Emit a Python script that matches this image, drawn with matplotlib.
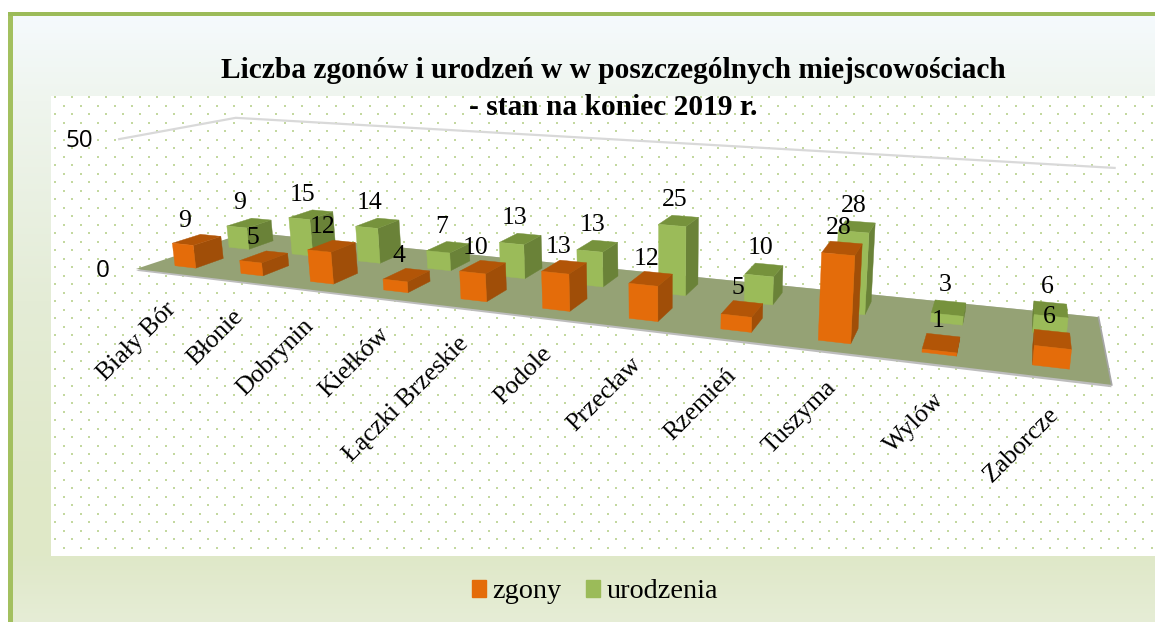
import matplotlib
matplotlib.use("Agg")
import matplotlib.pyplot as plt
import numpy as np
from matplotlib.patches import Patch, Polygon

# Chart data
categories = ['Biały Bór', 'Błonie', 'Dobrynin', 'Kiełków', 'Łączki Brzeskie', 'Podole',
              'Przecław', 'Rzemień', 'Tuszyma', 'Wylów', 'Zaborcze']
zgony = [9, 5, 12, 4, 10, 13, 12, 5, 28, 1, 6]
urodzenia = [9, 15, 14, 7, 13, 13, 25, 10, 28, 3, 6]
z_ticks = [0, 50]

SERIF = 'Liberation Serif'
W, H = 1155, 622
N = len(categories)
Z_MAX = z_ticks[-1]

# Where the corners of the 3D box land in the picture: (x, depth, z) -> (px, py)
corners = [((0, 0, 0), (133, 268)), ((N, 0, 0), (1112, 385)),
           ((N, 1, 0), (1098, 317)), ((0, 1, 0), (250, 233)),
           ((0, 0, Z_MAX), (122, 140)), ((0, 1, Z_MAX), (233, 117)),
           ((N, 1, Z_MAX), (1115, 168))]


def fit_camera(pairs):
    # plain DLT, gives the 3x4 perspective matrix of the box
    rows = []
    for (x, y, z), (u, v) in pairs:
        rows.append([x, y, z, 1, 0, 0, 0, 0, -u * x, -u * y, -u * z, -u])
        rows.append([0, 0, 0, 0, x, y, z, 1, -v * x, -v * y, -v * z, -v])
    return np.linalg.svd(np.array(rows, float))[2][-1].reshape(3, 4)


camera = fit_camera(corners)


def project(points):
    pts = np.column_stack([np.array(points, float), np.ones(len(points))])
    out = pts @ camera.T
    return out[:, :2] / out[:, 2:]


def draw_bar(ax, i, value, d0, d1, cols, order):
    x0, x1 = i + 0.5 - BAR_W / 2, i + 0.5 + BAR_W / 2
    front = [(x0, d0, 0), (x1, d0, 0), (x1, d0, value), (x0, d0, value)]
    right = [(x1, d0, 0), (x1, d1, 0), (x1, d1, value), (x1, d0, value)]
    left = [(x0, d1, 0), (x0, d0, 0), (x0, d0, value), (x0, d1, value)]
    top = [(x0, d0, value), (x1, d0, value), (x1, d1, value), (x0, d1, value)]
    for face, col in [(left, cols[1]), (right, cols[1]), (top, cols[2]), (front, cols[0])]:
        xy = project(face)
        # skip faces turned away from the viewer
        area = np.sum(xy[:, 0] * np.roll(xy[:, 1], -1) - np.roll(xy[:, 0], -1) * xy[:, 1])
        if area < 0:
            ax.add_patch(Polygon(xy, closed=True, fc=col, ec=col, lw=0.3, zorder=order))


BAR_W = 0.32
ORANGE = ('#E46C0A', '#A04E08', '#B25507')
GREEN = ('#9BBB59', '#6A8238', '#76923C')
FLOOR = '#95A275'
ROW_FRONT = (0.14, 0.38)
ROW_BACK = (0.62, 0.86)

fig = plt.figure(figsize=(W / 100, H / 100), dpi=100)
ax = fig.add_axes([0, 0, 1, 1])
ax.set_xlim(0, W)
ax.set_ylim(H, 0)
ax.axis('off')

# Slide background with its gradient
grad_y = [15, 100, 300, 500, 556, 622]
grad_c = np.array([[245, 250, 253], [239, 245, 238], [228, 236, 214],
                   [223, 232, 199], [223, 232, 200], [230, 237, 214]]) / 255
rows = np.arange(15, H)
grad = np.column_stack([np.interp(rows, grad_y, grad_c[:, k]) for k in range(3)])[:, None, :]
ax.imshow(grad, extent=[13, W, H, 15], aspect='auto', zorder=0)
ax.set_xlim(0, W)
ax.set_ylim(H, 0)
ax.fill_between([8, 13], 12, H, color='#A3C05F', lw=0, zorder=1)
ax.fill_between([8, W], 12, 15.5, color='#9BBB59', lw=0, zorder=1)

# Plot area: white with a dotted texture
ax.fill_between([51, W], 96, 555.5, color='white', lw=0, zorder=1)
dots_x, dots_y = [], []
for r, y in enumerate(np.arange(97, 555, 8.5)):
    xs = np.arange(55 + (r % 2) * 9, W, 17)
    dots_x.extend(xs)
    dots_y.extend([y] * len(xs))
ax.scatter(dots_x, dots_y, s=3.2, marker='s', color='#C3D89F', lw=0, zorder=1.5)

# Walls (only top edge is visible) and floor
wall = project([(0, 0, Z_MAX), (0, 1, Z_MAX), (N, 1, Z_MAX)])
ax.plot(wall[:, 0], wall[:, 1], color='#D9D9D9', lw=1.6, zorder=2)
ax.add_patch(Polygon(project([(0, 0, -0.7), (N, 0, -0.7), (N, 1, -0.7), (N, 1, 0), (0, 1, 0)]),
                     closed=True, fc='#BDBDBD', ec='none', zorder=2))
ax.add_patch(Polygon(project([(0, 0, 0), (N, 0, 0), (N, 1, 0), (0, 1, 0)]),
                     closed=True, fc=FLOOR, ec='none', zorder=2.1))
edge = project([(N, 1, 0), (N, 0, 0)])
ax.plot(edge[:, 0], edge[:, 1], color='#A6A6A6', lw=1.2, zorder=2.2)

# Bars, back row first
for i in range(N):
    draw_bar(ax, i, urodzenia[i], ROW_BACK[0], ROW_BACK[1], GREEN, 3)
for i in range(N):
    draw_bar(ax, i, zgony[i], ROW_FRONT[0], ROW_FRONT[1], ORANGE, 4)

# Data labels
for i in range(N):
    for value, row, shift, lift in [(urodzenia[i], ROW_BACK, -22 + 1.9 * i, 16), (zgony[i], ROW_FRONT, -26 + 2.3 * i, 14)]:
        px, py = project([(i + 0.5, row[1], value)])[0]
        ax.text(px + shift, py - lift, str(value), family=SERIF, fontsize=18.5, ha='center', va='center',
                color='black', zorder=6)

# Axis labels
for tick in z_ticks:
    px, py = project([(0, 0, tick)])[0]
    ax.text(px - 26, py + 2, str(tick), family='Open Sans', fontsize=17.5, ha='right', va='center', zorder=6)
for i, name in enumerate(categories):
    px, py = project([(i + 0.5, 0, 0)])[0]
    ax.text(px - 4, py + 25, name, family=SERIF, fontsize=18.5, rotation=45, rotation_mode='anchor',
            ha='right', va='top', zorder=6)

ax.text(613.5, 89, 'Liczba zgonów i urodzeń w w poszczególnych miejscowościach\n- stan na koniec 2019 r.',
        family=SERIF, fontsize=21.2, fontweight='bold', ha='center', va='center', linespacing=1.44, zorder=6)

handles = [Patch(color=ORANGE[0], label='zgony'), Patch(color=GREEN[0], label='urodzenia')]
ax.legend(handles=handles, loc='center', bbox_to_anchor=(595 / W, 1 - 592 / H), ncol=2, frameon=False,
          prop={'family': SERIF, 'size': 20.3}, handlelength=0.5, handleheight=0.5,
          handletextpad=0.25, columnspacing=0.85)

fig.savefig('out.png', dpi=100)
